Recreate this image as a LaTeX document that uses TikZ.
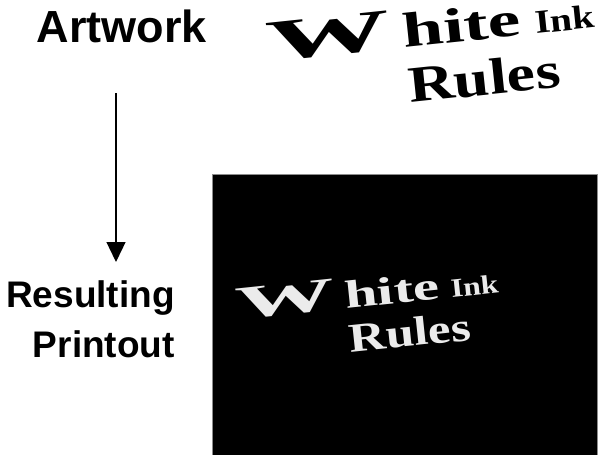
\documentclass[tikz,border=0pt]{standalone}
\usepackage{fontspec}
\setmainfont{Liberation Sans}
\newfontfamily\inkfont{Liberation Serif}
\usetikzlibrary{arrows.meta}
\tikzset{
	sidetext/.style={font=\bfseries\fontsize{37}{37}\selectfont, inner sep=0pt},
	inkline/.style={font=\inkfont\bfseries, rotate=6, inner sep=0pt, anchor=base west},
	flow/.style={-{Triangle[width=19pt,length=20pt]}, line width=1.3pt}
}
\def\inkart#1#2{%
	\node[inkline, text=#2] (#1w) at (0, 0) {\scalebox{2.15}[1]{\fontsize{58}{58}\selectfont W}};
	\node[inkline, text=#2] (#1h) at (#1w.base east) {\kern12pt\scalebox{1.5}[1]{\fontsize{49}{49}\selectfont hite}};
	\node[inkline, text=#2] (#1i) at (#1h.base east) {\kern14pt\scalebox{1.2}[1]{\fontsize{33}{33}\selectfont Ink}};
	\node[inkline, text=#2] (#1r) at (142, 41) {\scalebox{1.25}[1]{\fontsize{51}{51}\selectfont Rules}};
}

\begin{document}
\begin{tikzpicture}[x=1pt, y=-1pt]
		%%%%% START %%%%%
		\useasboundingbox (0, 0) rectangle (608, 455);
		
		\node[sidetext, font=\bfseries\fontsize{45}{45}\selectfont, anchor=base] (art) at (122, 42) {Artwork};
		\node[sidetext, anchor=base east] (res) at (175, 307) {Resulting};
		\node[sidetext, anchor=base east] (prt) at (175, 357) {Printout};
		
		\coordinate (arrtop) at (116, 93);
		\coordinate (arrtip) at (116, 262);
		\draw[flow] (arrtop) -- (arrtip);
		
		% artwork
		\begin{scope}[shift={(268, 62)}]
			\inkart{top}{black}
		\end{scope}
		
		% printout
		\draw[fill=black, draw=black!45] (212, 174) rectangle (597, 455);
		\begin{scope}[shift={(237, 320)}, scale=0.8, transform shape]
			\inkart{bot}{black!8}
		\end{scope}
		%%%%% END %%%%%
\end{tikzpicture}
\end{document}
